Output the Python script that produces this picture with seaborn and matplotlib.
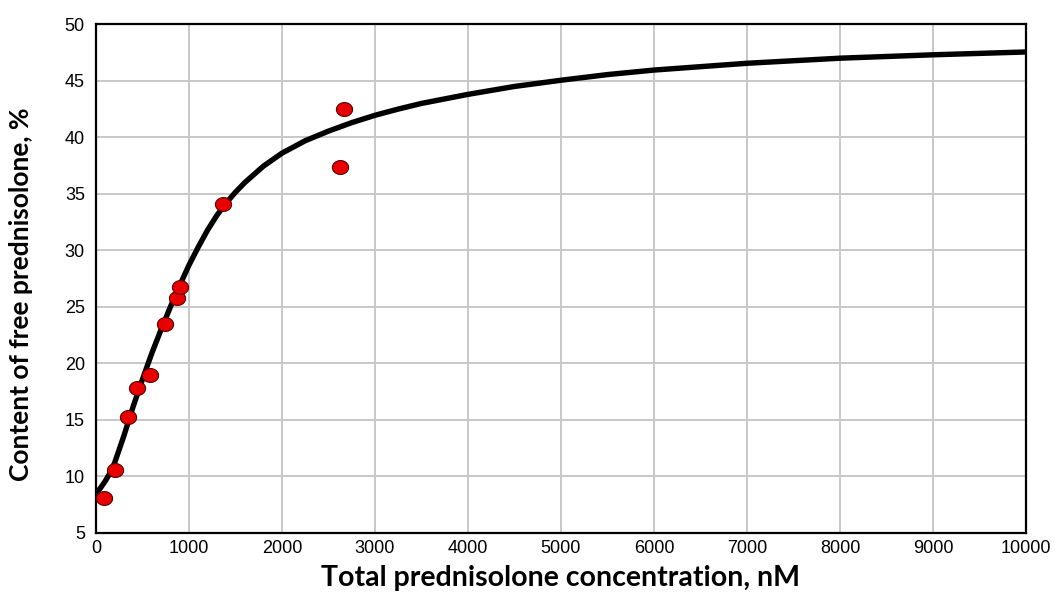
import matplotlib
matplotlib.use("Agg")
import matplotlib.pyplot as plt
from matplotlib.path import Path
import numpy as np
import seaborn as sns
import pandas as pd

# Measured data points
conc_points = [86, 201, 344, 436, 578, 740, 872, 908, 1364, 2623, 2670]
free_points = [8.1, 10.6, 15.3, 17.8, 19.0, 23.5, 25.8, 26.8, 34.1, 37.4, 42.5]

# Fitted curve
curve_x = [0, 50, 100, 150, 200, 300, 400, 500, 600, 700, 800, 900, 1000, 1100, 1200, 1300,
           1400, 1500, 1600, 1800, 2000, 2250, 2500, 2750, 3000, 3250, 3500, 3750, 4000,
           4500, 5000, 5500, 6000, 7000, 8000, 9000, 10000]
curve_y = [8.5, 9.0, 9.6, 10.3, 11.2, 13.6, 16.2, 18.6, 20.9, 23.0, 25.0, 26.9, 28.7, 30.3,
           31.8, 33.1, 34.2, 35.15, 36.0, 37.45, 38.6, 39.7, 40.55, 41.3, 41.95, 42.5, 43.0,
           43.4, 43.8, 44.5, 45.05, 45.55, 45.95, 46.55, 47.0, 47.3, 47.55]

x_ticks = [0, 1000, 2000, 3000, 4000, 5000, 6000, 7000, 8000, 9000, 10000]
y_ticks = [5, 10, 15, 20, 25, 30, 35, 40, 45, 50]

sns.set_theme(style="whitegrid")
plt.rcParams['font.family'] = ['Liberation Sans', 'DejaVu Sans']

fig = plt.figure(figsize=(10.55, 5.98), dpi=100)
ax = fig.add_axes([0.0910, 0.1087, 0.8815, 0.8507])

df_curve = pd.DataFrame({"x": curve_x, "y": curve_y})
df_pts = pd.DataFrame({"x": conc_points, "y": free_points})

t = np.linspace(0, 2 * np.pi, 60)
ellipse = Path(np.column_stack([np.cos(t), 0.86 * np.sin(t)]), closed=True)

sns.lineplot(data=df_curve, x="x", y="y", ax=ax, color="black", linewidth=3.9,
             zorder=3, sort=True)
sns.scatterplot(data=df_pts, x="x", y="y", ax=ax, color="#e80000", edgecolor="#5a0000",
                linewidth=0.8, s=135, marker=ellipse, zorder=4)

ax.set_xlim(0, 10000)
ax.set_ylim(5, 50)
ax.set_xticks(x_ticks)
ax.set_yticks(y_ticks)
ax.set_xticklabels([str(v) for v in x_ticks], fontsize=13)
ax.set_yticklabels([str(v) for v in y_ticks], fontsize=13)
ax.tick_params(axis="both", length=0, colors="black", labelcolor="black")
ax.tick_params(axis="x", pad=5)
ax.tick_params(axis="y", pad=8)

ax.grid(True, color="#c8c8c8", linewidth=1.4)
for s in ax.spines.values():
    s.set_color("black")
    s.set_linewidth(1.6)
    s.set_visible(True)

ax.set_xlabel("Total prednisolone concentration, nM", fontsize=20.5, fontweight="bold",
              family=["Lato", "DejaVu Sans"], labelpad=6, color="black")
ax.set_ylabel("Content of free prednisolone, %", fontsize=19, fontweight="bold",
              family=["Lato", "DejaVu Sans"], color="black")
ax.yaxis.set_label_coords(-0.068, 0.47)

fig.savefig("out.png", dpi=100, facecolor="white")
